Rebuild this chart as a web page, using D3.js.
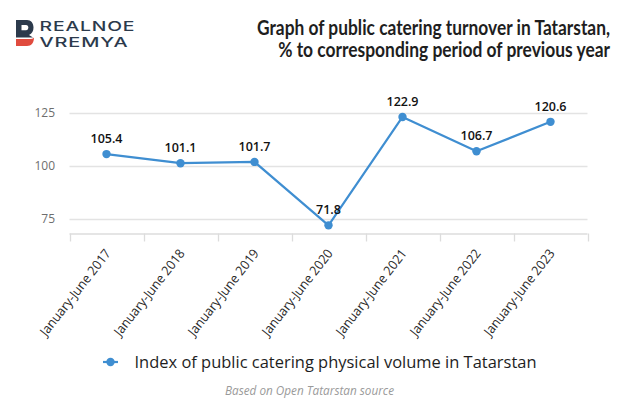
<!DOCTYPE html>
<html><head><meta charset="utf-8">
<script src="https://cdn.jsdelivr.net/npm/d3@7"></script>
<style>
html,body{margin:0;padding:0;background:#fff;}
svg{display:block;font-family:"Open Sans",sans-serif;}
</style></head>
<body>
<svg id="c" width="620" height="398"></svg>
<script>
const categories = ["January-June 2017","January-June 2018","January-June 2019","January-June 2020","January-June 2021","January-June 2022","January-June 2023"];
const values = [105.4, 101.1, 101.7, 71.8, 122.9, 106.7, 120.6];
const yTicks = [75, 100, 125];
const seriesName = "Index of public catering physical volume in Tatarstan";
const titleLines = ["Graph of public catering turnover in Tatarstan,", "% to corresponding period of previous year"];
const sourceText = "Based on Open Tatarstan source";

const svg = d3.select("#c");
const blue = "#3f8ed1";

// fit a text horizontally to a target width by scaling (keeps glyph height)
function fitText(sel, target, anchorX, baseY, anchor) {
  const w = sel.node().getComputedTextLength();
  const sx = target / w;
  sel.attr("x", 0).attr("y", 0).attr("text-anchor", anchor)
     .attr("transform", `translate(${anchorX},${baseY}) scale(${sx},1)`);
}

// logo
const logo = svg.append("g");
logo.append("path").attr("fill","#2c3a4c")
  .attr("d","M16,20 H27 C31,20 33.5,23 33.5,27.5 C33.5,31 32,33.5 29,35 L33,37.5 H16 Z");
logo.append("path").attr("fill","#fff")
  .attr("d","M21.5,25 H26 C27.5,25 28.3,26 28.3,27.6 C28.3,29.2 27.5,30.2 26,30.2 H21.5 Z");
logo.append("path").attr("fill","#e04b3e")
  .attr("d","M16,39 H29 C31.5,39 33,38.5 34,37.5 C34,42.5 31.5,46 27,46 H16 Z");
const l1 = logo.append("text").attr("fill","#2c3a4c")
  .style("font-family","Inter").style("font-weight",500).style("font-size","13.5px").style("letter-spacing","0.6px").text("REALNOE");
fitText(l1, 96, 39.5, 31, "start");
const l2 = logo.append("text").attr("fill","#2c3a4c")
  .style("font-family","Inter").style("font-weight",500).style("font-size","13.5px").style("letter-spacing","0.6px").text("VREMYA");
fitText(l2, 89, 39.5, 46.5, "start");

// title
const tLens = [353, 332];
titleLines.forEach((t,i)=>{
  const tt = svg.append("text").attr("fill","#1e1e1e")
    .style("font-family","Lato").style("font-weight",700).style("font-size","20px").text(t);
  fitText(tt, tLens[i], 610, 35 + i*22, "end");
});

// scales
const x = d3.scaleBand().domain(categories).range([69.5, 587.5]).padding(0);
const y = d3.scaleLinear().domain([68, 130]).range([233.4, 101.9]);
const cx = d => x(d) + x.bandwidth()/2;

// grid
svg.append("g").selectAll("line").data(yTicks).join("line")
  .attr("x1",69.5).attr("x2",587.5)
  .attr("y1",d=>Math.round(y(d))+0.5).attr("y2",d=>Math.round(y(d))+0.5)
  .attr("stroke","#e3e3e3").attr("stroke-width",1.3);
svg.append("g").selectAll("text").data(yTicks).join("text")
  .attr("x",55).attr("y",d=>y(d)).attr("dy","0.35em").attr("text-anchor","end")
  .attr("fill","#6e6e6e").style("font-size","12px").text(d=>d);

// x axis
const xAxis = d3.axisBottom(x).tickSize(8).tickFormat("");
const gx = svg.append("g").attr("transform",`translate(0,${Math.round(y(68))+0.5})`).call(xAxis);
gx.select(".domain").attr("stroke","#dcdcdc").attr("stroke-width",1.3).attr("d","M69.5,0.5H587.5");
gx.selectAll(".tick").remove();
const bounds = categories.map(c=>x(c)).concat([x(categories[categories.length-1])+x.bandwidth()]);
gx.selectAll("line.b").data(bounds).join("line").attr("class","b")
  .attr("x1",d=>Math.round(d)+0.5).attr("x2",d=>Math.round(d)+0.5).attr("y1",0).attr("y2",8)
  .attr("stroke","#dcdcdc").attr("stroke-width",1.3);

svg.append("g").selectAll("text").data(categories).join("text")
  .attr("transform",d=>`translate(${cx(d)+5},253.5) rotate(-52)`)
  .attr("text-anchor","end").attr("fill","#2a2a2a").style("font-size","13px")
  .attr("textLength",106).attr("lengthAdjust","spacingAndGlyphs").text(d=>d);

// line
const line = d3.line().x((d,i)=>cx(categories[i])).y(d=>y(d));
svg.append("path").datum(values).attr("d",line).attr("fill","none")
  .attr("stroke",blue).attr("stroke-width",2.2).attr("stroke-linejoin","round");
svg.append("g").selectAll("circle").data(values).join("circle")
  .attr("cx",(d,i)=>cx(categories[i])).attr("cy",d=>y(d)).attr("r",4.2).attr("fill",blue);
svg.append("g").selectAll("text").data(values).join("text")
  .attr("x",(d,i)=>cx(categories[i])).attr("y",d=>y(d)-11).attr("text-anchor","middle")
  .attr("fill","#111").style("font-size","12.5px").style("font-weight",600).text(d=>d.toFixed(1));

// legend
svg.append("line").attr("x1",103).attr("x2",118).attr("y1",362).attr("y2",362)
  .attr("stroke",blue).attr("stroke-width",2.2);
svg.append("circle").attr("cx",110.5).attr("cy",362).attr("r",4.2).attr("fill",blue);
svg.append("text").attr("x",134.5).attr("y",367.5).attr("fill","#1e1e1e")
  .style("font-size","17px").attr("textLength",402).attr("lengthAdjust","spacingAndGlyphs").text(seriesName);

// source
svg.append("text").attr("x",309.5).attr("y",394.5).attr("text-anchor","middle").attr("fill","#9a9a9a")
  .style("font-size","12px").style("font-style","italic")
  .attr("textLength",169).attr("lengthAdjust","spacingAndGlyphs").text(sourceText);
</script>
</body></html>
